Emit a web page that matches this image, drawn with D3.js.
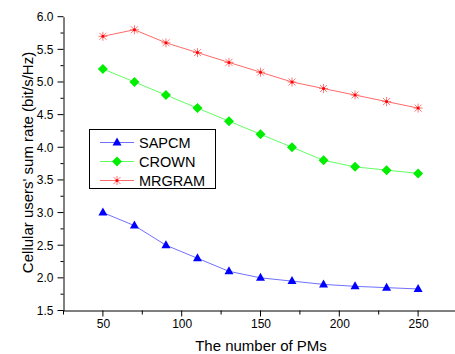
<!DOCTYPE html>
<html><head><meta charset="utf-8">
<script src="https://cdn.jsdelivr.net/npm/d3@7"></script>
<style>body{margin:0;background:#fff}svg{display:block}text{font-family:"Liberation Sans",Arial,sans-serif}</style>
</head><body>
<script>
const xValues = [50,70,90,110,130,150,170,190,210,230,250];
const sapcm  = [3.0,2.8,2.5,2.3,2.1,2.0,1.95,1.9,1.87,1.85,1.83];
const crown  = [5.2,5.0,4.8,4.6,4.4,4.2,4.0,3.8,3.7,3.65,3.6];
const mrgram = [5.7,5.8,5.6,5.45,5.3,5.15,5.0,4.9,4.8,4.7,4.6];
const seriesNames = ["SAPCM","CROWN","MRGRAM"];
const xTicks = [50,100,150,200,250];
const yTicks = [1.5,2.0,2.5,3.0,3.5,4.0,4.5,5.0,5.5,6.0];
const xTitle = "The number of PMs";
const yTitle = "Cellular users' sum rate (bit/s/Hz)";

const W=455,H=354;
const svg=d3.select("body").append("svg").attr("width",W).attr("height",H);
const x=d3.scaleLinear().domain([25,275]).range([63.5,457.5]);
const y=d3.scaleLinear().domain([1.5,6.0]).range([310.5,16.7]);
const FONT="'Liberation Sans',Arial,sans-serif";

// axes
const gx=svg.append("g").attr("transform","translate(0,310.5)");
gx.call(d3.axisBottom(x).tickValues(xTicks).tickSize(0).tickFormat(d3.format("d")).tickSizeOuter(0));
gx.selectAll(".tick line").remove();
gx.append("g").selectAll("line").data(d3.range(25,276,25)).join("line")
  .attr("x1",d=>x(d)).attr("x2",d=>x(d)).attr("y1",0).attr("y2",d=>d%50===0?6:4).attr("stroke","#000");
gx.selectAll(".tick text").attr("y",9).attr("font-size",12).attr("fill","#000").style("font-family",FONT);

const gy=svg.append("g").attr("transform","translate(63.5,0)");
gy.call(d3.axisLeft(y).tickValues(yTicks).tickSize(0).tickFormat(d3.format(".1f")).tickSizeOuter(0));
gy.selectAll(".tick line").remove();
gy.append("g").selectAll("line").data(d3.range(1.5,6.01,0.25)).join("line")
  .attr("y1",d=>y(d)).attr("y2",d=>y(d)).attr("x1",0).attr("x2",d=>Math.abs(d*2-Math.round(d*2))<1e-6?-6:-3).attr("stroke","#000");
gy.selectAll(".tick text").attr("x",-10).attr("font-size",12).attr("fill","#000").style("font-family",FONT);
svg.selectAll(".domain").attr("stroke","#000");

// titles
svg.append("text").attr("x",261).attr("y",351).attr("text-anchor","middle").attr("font-size",15).text(xTitle);
svg.append("text").attr("transform","translate(33,162.5) rotate(-90)").attr("text-anchor","middle").attr("font-size",15).text(yTitle);

const colors=["#0000ff","#00ee00","#ff0000"];
const lineColors=["#7070ff","#60ff60","#ff6a6a"];
const data=[sapcm,crown,mrgram];
const line=d3.line().x((d,i)=>x(xValues[i])).y(d=>y(d));

function marker(g,type,cx,cy,c){
  if(type===0){
    g.append("path").attr("d",`M${cx},${cy-5}L${cx+4.5},${cy+3}L${cx-4.5},${cy+3}Z`).attr("fill",c);
  } else if(type===1){
    g.append("path").attr("d",`M${cx},${cy-5}L${cx+5},${cy}L${cx},${cy+5}L${cx-5},${cy}Z`).attr("fill",c);
  } else {
    const r=4.5,r2=3.5;
    const p=`M${cx-r},${cy}L${cx+r},${cy}M${cx},${cy-r}L${cx},${cy+r}M${cx-r2},${cy-r2}L${cx+r2},${cy+r2}M${cx-r2},${cy+r2}L${cx+r2},${cy-r2}`;
    g.append("path").attr("d",p).attr("stroke","#ff7777").attr("stroke-width",1).attr("fill","none");
    g.append("circle").attr("cx",cx).attr("cy",cy).attr("r",1.5).attr("fill",c);
  }
}

data.forEach((vals,s)=>{
  const g=svg.append("g");
  g.append("path").datum(vals).attr("d",line).attr("fill","none").attr("stroke",lineColors[s]).attr("stroke-width",1);
  vals.forEach((v,i)=>marker(g,s,x(xValues[i]),y(v),colors[s]));
});

// legend
const lg=svg.append("g");
lg.append("rect").attr("x",89.5).attr("y",129.5).attr("width",126).attr("height",59).attr("fill","#fff").attr("stroke","#000").attr("stroke-width",1);
seriesNames.forEach((n,s)=>{
  const yy=142.5+s*19;
  lg.append("line").attr("x1",100).attr("x2",134).attr("y1",yy).attr("y2",yy).attr("stroke",lineColors[s]).attr("stroke-width",1);
  marker(lg,s,117,yy,colors[s]);
  lg.append("text").attr("x",139).attr("y",yy+5.5).attr("font-size",14.5).text(n);
});
</script>
</body></html>
